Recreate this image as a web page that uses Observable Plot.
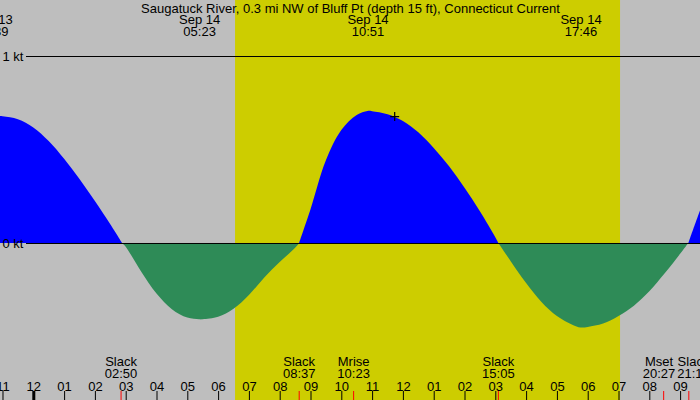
<!DOCTYPE html>
<html>
<head>
<meta charset="utf-8">
<script src="https://cdn.jsdelivr.net/npm/d3@7"></script>
<script src="https://cdn.jsdelivr.net/npm/@observablehq/plot@0.6"></script>
<style>
  html, body { margin: 0; padding: 0; overflow: hidden; background: #bebebe; }
  #chart svg { display: block; }
</style>
</head>
<body>
<div id="chart"></div>
<script>
// ---------- data ----------
const title = "Saugatuck River, 0.3 mi NW of Bluff Pt (depth 15 ft), Connecticut Current";

const flowTimes = [
  "2024-09-13 22:30","2024-09-13 22:39","2024-09-13 23:00","2024-09-13 23:30",
  "2024-09-14 00:00","2024-09-14 00:30","2024-09-14 01:00","2024-09-14 01:30",
  "2024-09-14 02:00","2024-09-14 02:30","2024-09-14 02:53","2024-09-14 03:00",
  "2024-09-14 03:30","2024-09-14 04:00","2024-09-14 04:30","2024-09-14 05:00",
  "2024-09-14 05:23","2024-09-14 05:30","2024-09-14 06:00","2024-09-14 06:30",
  "2024-09-14 07:00","2024-09-14 07:30","2024-09-14 08:00","2024-09-14 08:30",
  "2024-09-14 08:38","2024-09-14 09:00","2024-09-14 09:30","2024-09-14 10:00",
  "2024-09-14 10:30","2024-09-14 10:51","2024-09-14 11:00","2024-09-14 11:30",
  "2024-09-14 12:00","2024-09-14 12:30","2024-09-14 13:00","2024-09-14 13:30",
  "2024-09-14 14:00","2024-09-14 14:30","2024-09-14 15:00","2024-09-14 15:06",
  "2024-09-14 15:30","2024-09-14 16:00","2024-09-14 16:30","2024-09-14 17:00",
  "2024-09-14 17:30","2024-09-14 17:46","2024-09-14 18:00","2024-09-14 18:30",
  "2024-09-14 19:00","2024-09-14 19:30","2024-09-14 20:00","2024-09-14 20:30",
  "2024-09-14 21:00","2024-09-14 21:16","2024-09-14 21:30","2024-09-14 22:00"
];
const flowKnots = [
  0.679, 0.680, 0.678, 0.662,
  0.618, 0.545, 0.450, 0.342,
  0.224, 0.100, 0, -0.020,
  -0.152, -0.270, -0.354, -0.399,
  -0.408, -0.408, -0.395, -0.352,
  -0.278, -0.184, -0.102, -0.026,
  0, 0.180, 0.442, 0.604,
  0.685, 0.706, 0.705, 0.689,
  0.653, 0.592, 0.508, 0.410,
  0.296, 0.170, 0.031, 0,
  -0.097, -0.214, -0.315, -0.391,
  -0.437, -0.452, -0.449, -0.431,
  -0.390, -0.335, -0.258, -0.162,
  -0.058, 0, 0.108, 0.330
];

const extremeTimes = ["2024-09-13 22:39","2024-09-14 05:23","2024-09-14 10:51","2024-09-14 17:46"];

const sunriseTime = "2024-09-14 06:33";
const sunsetTime  = "2024-09-14 19:03";

const eventTimes = ["2024-09-14 02:50","2024-09-14 08:37","2024-09-14 10:23","2024-09-14 15:05","2024-09-14 20:27","2024-09-14 21:16"];
const eventNames = ["Slack","Slack","Mrise","Slack","Mset","Slack"];

const hourTickTimes = [
  "2024-09-13 23:00","2024-09-14 00:00","2024-09-14 01:00","2024-09-14 02:00",
  "2024-09-14 03:00","2024-09-14 04:00","2024-09-14 05:00","2024-09-14 06:00",
  "2024-09-14 07:00","2024-09-14 08:00","2024-09-14 09:00","2024-09-14 10:00",
  "2024-09-14 11:00","2024-09-14 12:00","2024-09-14 13:00","2024-09-14 14:00",
  "2024-09-14 15:00","2024-09-14 16:00","2024-09-14 17:00","2024-09-14 18:00",
  "2024-09-14 19:00","2024-09-14 20:00","2024-09-14 21:00"
];
const hourTickLabels = ["11","12","01","02","03","04","05","06","07","08","09","10",
                        "11","12","01","02","03","04","05","06","07","08","09"];
const midnightTimes = ["2024-09-14 00:00"];

const levelKnots = [1, 0];
const levelLabels = ["1 kt", "0 kt"];

const nowTimes = ["2024-09-14 11:43"];
const nowKnots = [0.679];

const viewStart = "2024-09-13 22:55:08";
const viewEnd   = "2024-09-14 21:38:45";
const knotDomain = [-0.8396, 1.2995];

// ---------- build ----------
const FONT = 13;
const parse = d3.utcParse("%Y-%m-%d %H:%M");
const parseS = d3.utcParse("%Y-%m-%d %H:%M:%S");
const fmtHM = d3.utcFormat("%H:%M");
const fmtDay = d3.utcFormat("%b %d");

const flow = flowTimes.map((t, i) => ({time: parse(t), knots: flowKnots[i]}));
const segments = [];
let cur = [];
for (const d of flow) {
  cur.push(d);
  if (d.knots === 0 && cur.length > 1) { segments.push(cur); cur = [d]; }
}
if (cur.length > 1) segments.push(cur);
const flood = [], ebb = [];
segments.forEach((seg, k) => {
  const s = d3.sum(seg, d => d.knots);
  seg.forEach(d => (s > 0 ? flood : ebb).push({...d, seg: k}));
});

const xDomain = [parseS(viewStart), parseS(viewEnd)];
const W = 700, H = 400;
const xs = Plot.scale({x: {type: "utc", domain: xDomain, range: [0, W]}});

const extremes = extremeTimes.map(t => {
  const d = parse(t);
  return {time: d, label: fmtDay(d) + "\n" + fmtHM(d)};
});

// event labels with simple collision avoidance
const ctx = document.createElement("canvas").getContext("2d");
ctx.font = FONT + "px 'Liberation Sans'";
const events = eventTimes.map((t, i) => {
  const d = parse(t);
  const lines = [eventNames[i], fmtHM(d)];
  const w = Math.max(...lines.map(l => ctx.measureText(l).width));
  return {time: d, label: lines.join("\n"), px: xs.apply(d), w};
});
const labs = events.map(e => ({...e})).sort((a, b) => a.px - b.px);
for (let i = 1; i < labs.length; i++) {
  const a = labs[i - 1], b = labs[i];
  const need = (a.w + b.w) / 2 + 2;
  const gap = b.px - a.px;
  if (gap < need) {
    const s = (need - gap) / 2;
    a.px -= s; b.px += s;
  }
}
labs.forEach(l => l.labelTime = xs.invert(l.px));

const hours = hourTickTimes.map((t, i) => ({time: parse(t), label: hourTickLabels[i]}));
const levels = levelKnots.map((k, i) => ({knots: k, label: levelLabels[i]}));
const now = nowTimes.map((t, i) => ({time: parse(t), knots: nowKnots[i]}));
const LH = 12 / FONT;

const plot = Plot.plot({
  width: W,
  height: H,
  margin: 0,
  x: {type: "utc", domain: xDomain, axis: null},
  y: {domain: knotDomain, axis: null},
  style: {background: "#bebebe", overflow: "hidden", fontFamily: "'Liberation Sans', Arial, sans-serif", fontSize: FONT + "px", color: "black"},
  marks: [
    Plot.rect([0], {x1: () => parse(sunriseTime), x2: () => parse(sunsetTime), fill: "#cdcd00"}),
    Plot.areaY(flood, {x: "time", y: "knots", z: "seg", fill: "#0000ff", curve: "catmull-rom", clip: true}),
    Plot.areaY(ebb, {x: "time", y: "knots", z: "seg", fill: "#2e8b57", curve: "catmull-rom", clip: true}),
    Plot.ruleY(levels, {y: "knots", stroke: "black", strokeWidth: 1, insetLeft: 26}),
    Plot.text(levels, {y: "knots", text: "label", frameAnchor: "left", textAnchor: "start", dx: 2, fontSize: FONT, fill: "black"}),
    Plot.dot(now, {x: "time", y: "knots", symbol: "plus", r: 3.0, stroke: "black", strokeWidth: 1.2}),
    Plot.text([title], {text: d => d, frameAnchor: "top", lineAnchor: "top", dy: 3, fontSize: FONT, fill: "black"}),
    Plot.text(extremes, {x: "time", text: "label", frameAnchor: "top", lineAnchor: "top", dy: 15, lineHeight: LH, fontSize: FONT, fill: "black"}),
    Plot.text(labs, {x: "labelTime", text: "label", frameAnchor: "bottom", lineAnchor: "top", dy: -43, lineHeight: LH, fontSize: FONT, fill: "black"}),
    Plot.text(hours, {x: "time", text: "label", frameAnchor: "bottom", lineAnchor: "top", dy: -19, fontSize: FONT, fill: "black"}),
    Plot.ruleX(hours, {x: "time", stroke: "black", strokeWidth: 1, insetTop: 391}),
    Plot.ruleX(midnightTimes.map(parse), {x: d => d, stroke: "black", strokeWidth: 3, insetTop: 391}),
    Plot.ruleX(events, {x: "time", stroke: "#ff0000", strokeWidth: 1, insetTop: 391})
  ]
});
document.getElementById("chart").appendChild(plot);
</script>
</body>
</html>
